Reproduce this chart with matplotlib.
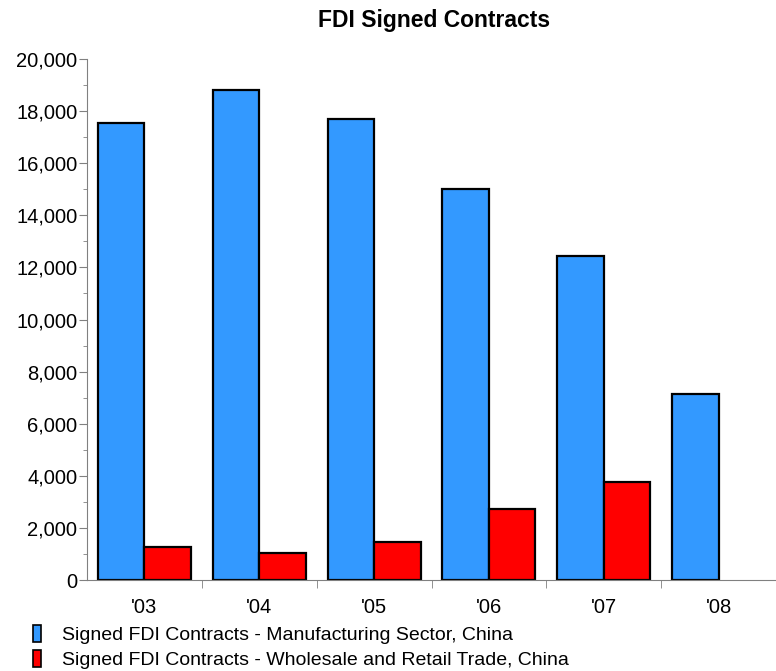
import numpy as np
import matplotlib.pyplot as plt
from matplotlib.patches import Patch
from matplotlib.ticker import MultipleLocator, FuncFormatter

plt.rcParams['font.family'] = ['Liberation Sans', 'DejaVu Sans']

years = ["'03", "'04", "'05", "'06", "'07", "'08"]
manufacturing = [17530, 18810, 17700, 15000, 12440, 7140]
wholesale = [1280, 1020, 1470, 2710, 3750, np.nan]
series_names = ['Signed FDI Contracts - Manufacturing Sector, China',
                'Signed FDI Contracts - Wholesale and Retail Trade, China']
colors = ['#3399FF', '#FF0000']

fig = plt.figure(figsize=(7.76, 6.71), dpi=100)
ax = fig.add_axes([87 / 776, 1 - 580 / 671, 1 - 87 / 776, (580 - 59) / 671])

x = np.arange(len(years))
w = 0.405
ax.bar(x - w / 2, manufacturing, w, color=colors[0], edgecolor='black', linewidth=1.6)
ax.bar(x + w / 2, wholesale, w, color=colors[1], edgecolor='black', linewidth=1.6)

ax.set_xlim(-0.5, (776 - 87) / 116 - 0.5)
ax.set_ylim(0, 20000)

for s in ['top', 'right']:
    ax.spines[s].set_visible(False)
for s in ['left', 'bottom']:
    ax.spines[s].set_color('#808080')

ax.yaxis.set_major_locator(MultipleLocator(2000))
ax.yaxis.set_minor_locator(MultipleLocator(1000))
ax.yaxis.set_major_formatter(FuncFormatter(lambda v, p: f'{int(v):,}'))
ax.tick_params(axis='y', which='major', length=6, color='#808080', labelsize=14.5, pad=1)
ax.tick_params(axis='y', which='minor', length=3, color='#808080')

ax.set_xticks(x)
ax.set_xticklabels(years)
ax.set_xticks(np.arange(len(years)) + 0.5, minor=True)
ax.tick_params(axis='x', which='major', length=0, labelsize=14.5, pad=13)
ax.tick_params(axis='x', which='minor', length=6, color='#808080')

fig.text(0.56, 0.97, 'FDI Signed Contracts', ha='center', va='center',
         fontsize=16.5, fontweight='bold')

handles = [Patch(facecolor=c, edgecolor='black', linewidth=1.2) for c in colors]
fig.legend(handles, series_names, loc='upper left', bbox_to_anchor=(0.042, 0.069),
           frameon=False, fontsize=14, handlelength=0.45, handleheight=1.0,
           handletextpad=1.05, labelspacing=0.3, borderaxespad=0, borderpad=0)

fig.savefig('out.png', dpi=100)
